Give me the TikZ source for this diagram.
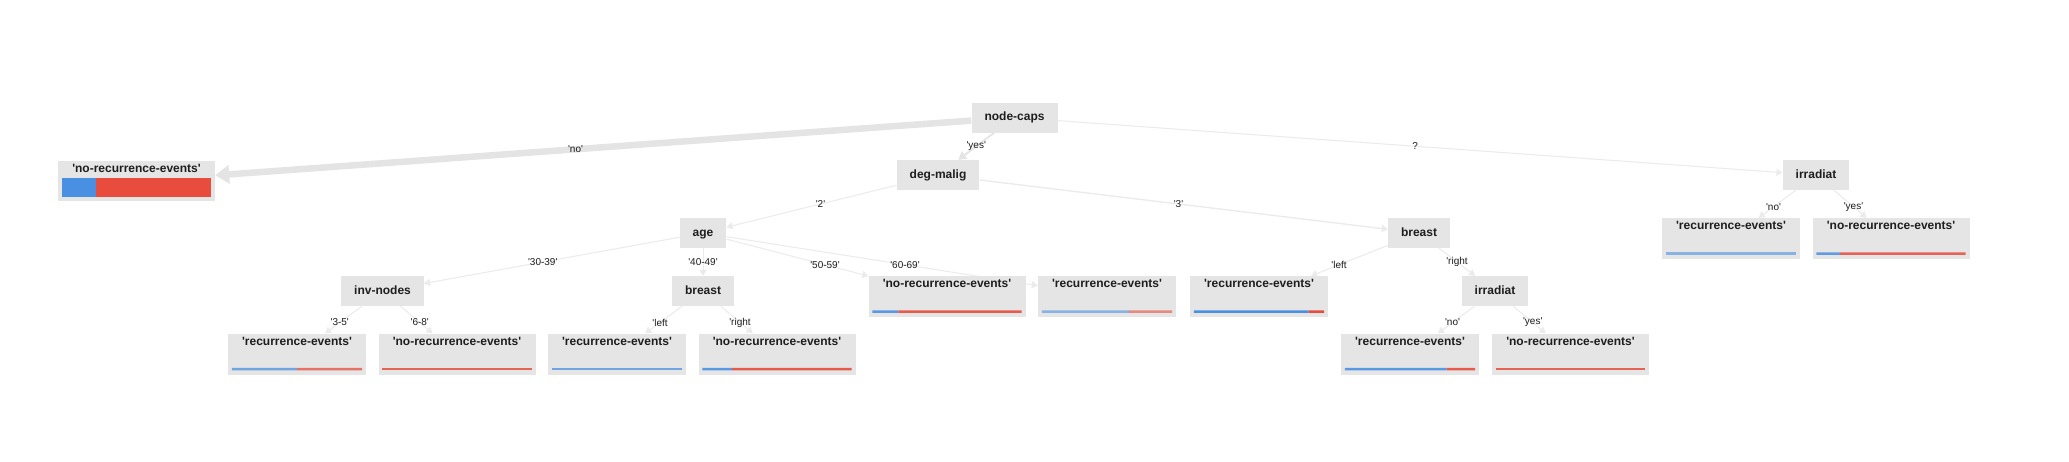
\documentclass[tikz,border=0pt]{standalone}
\usepackage{fontspec}
\newfontfamily\nfb{Liberation Sans}[Ligatures=TeXOff]
\usetikzlibrary{calc,arrows.meta}
\definecolor{boxgray}{HTML}{E5E5E5}
\definecolor{edgegray}{HTML}{E4E4E4}
\definecolor{edgelight}{HTML}{EBEBEB}
\definecolor{barblue}{HTML}{4A90E2}
\definecolor{barred}{HTML}{E74C3C}
\definecolor{labtext}{HTML}{1E1E1E}
\pgfdeclarelayer{paperlayer}
\pgfdeclarelayer{edgelayer}
\pgfsetlayers{paperlayer,edgelayer,main}
\tikzset{
  dec/.style={fill=boxgray, text=labtext, font=\nfb\bfseries\fontsize{12}{14}\selectfont,
    inner xsep=13pt, inner ysep=0pt, minimum height=30pt, text height=9pt, text depth=2.5pt},
  leafbox/.style={fill=boxgray, text=labtext, font=\nfb\bfseries\fontsize{12}{14}\selectfont,
    inner xsep=0pt, inner ysep=0pt, text height=11.5pt, text depth=29.5pt, minimum width=#1},
  elab/.style={font=\nfb\fontsize{10}{12}\selectfont, inner sep=0pt, text=labtext},
  conn/.style={draw=edgelight, line width=1pt, -{Triangle[length=6pt,width=7pt]}},
  barline/.style={line width=2.5pt}
}
\newcommand{\leafbar}[3]{%
  \coordinate (#1a) at ($(#1.south west)+(4,-5.5)$);
  \coordinate (#1b) at ($(#1.south east)+(-4,-5.5)$);
  \coordinate (#1m) at ($(#1a)!#2!(#1b)$);
  \draw[barline, barblue, opacity=#3] (#1a) -- (#1m);
  \draw[barline, barred, opacity=#3] (#1m) -- (#1b);
}
\newcommand{\elabel}[4]{%
  \node[elab] (#1) at ($(#2)!0.5!(#3)$) {#4};
}
\begin{document}
\begin{tikzpicture}[x=1pt,y=-1pt]
\useasboundingbox (0,0) rectangle (2069,461);
\begin{pgfonlayer}{paperlayer}
\fill[white] (0,0) rectangle (2069,461);
\end{pgfonlayer}

% decision nodes
\node[dec] (nc) at (1014.5,117.5) {node-caps};
\node[dec] (dm) at (938,175) {deg-malig};
\node[dec] (ir1) at (1816,175) {irradiat};
\node[dec] (age) at (703,233) {age};
\node[dec] (br2) at (1419,233) {breast};
\node[dec] (inv) at (382.5,291) {inv-nodes};
\node[dec] (br1) at (703,291) {breast};
\node[dec] (ir2) at (1495,291) {irradiat};

% leaves
\node[leafbox=157pt, text height=11pt, text depth=29pt] (L0) at (136.5,181) {'no-recurrence-events'};
\node[leafbox=138pt] (T1) at (1731,238.5) {'recurrence-events'};
\node[leafbox=157pt] (T2) at (1891,238.5) {'no-recurrence-events'};
\node[leafbox=157pt] (L5059) at (947,296.5) {'no-recurrence-events'};
\node[leafbox=138pt] (L6069) at (1107,296.5) {'recurrence-events'};
\node[leafbox=138pt] (Lleft) at (1259,296.5) {'recurrence-events'};
\node[leafbox=138pt] (L35) at (297,354) {'recurrence-events'};
\node[leafbox=157pt] (L68) at (457,354) {'no-recurrence-events'};
\node[leafbox=138pt] (Ll) at (617,354) {'recurrence-events'};
\node[leafbox=157pt] (Lr) at (777,354) {'no-recurrence-events'};
\node[leafbox=138pt] (Lno) at (1410,354) {'recurrence-events'};
\node[leafbox=157pt] (Lyes) at (1570.5,354) {'no-recurrence-events'};

% bars
\fill[barblue] ($(L0.south west)+(4,-4)$) rectangle ($(L0.south west)+(38,-23)$);
\fill[barred] ($(L0.south west)+(38,-4)$) rectangle ($(L0.south east)+(-4,-23)$);
\leafbar{T1}{1}{0.6}
\leafbar{T2}{0.16}{0.85}
\leafbar{L5059}{0.175}{0.9}
\leafbar{L6069}{0.67}{0.6}
\leafbar{Lleft}{0.88}{1}
\leafbar{L35}{0.5}{0.75}
\leafbar{L68}{0}{0.85}
\leafbar{Ll}{1}{0.75}
\leafbar{Lr}{0.2}{0.9}
\leafbar{Lno}{0.78}{0.9}
\leafbar{Lyes}{0}{0.85}

% connectors
\begin{pgfonlayer}{edgelayer}
\draw[conn, draw=edgegray, line width=6.5pt, -{Triangle[length=14pt,width=18pt]}] (nc) -- (L0);
\draw[conn, draw=edgegray, line width=1.8pt, -{Triangle[length=8pt,width=9pt]}] (nc) -- (dm);
\draw[conn] (nc) -- (ir1);
\draw[conn] (dm) -- (age);
\draw[conn, line width=1.3pt] (dm) -- (br2);
\draw[conn] (ir1) -- (T1);
\draw[conn] (ir1) -- (T2);
\draw[conn] (age) -- (inv);
\draw[conn] (age) -- (br1);
\draw[conn] (age) -- (L5059);
\draw[conn] (age) -- (L6069);
\draw[conn] (br2) -- (Lleft);
\draw[conn] (br2) -- (ir2);
\draw[conn] (inv) -- (L35);
\draw[conn] (inv) -- (L68);
\draw[conn] (br1) -- (Ll);
\draw[conn] (br1) -- (Lr);
\draw[conn] (ir2) -- (Lno);
\draw[conn] (ir2) -- (Lyes);
\end{pgfonlayer}

% connector labels
\elabel{e1}{nc}{L0}{'no'}
\elabel{e2}{nc}{dm}{'yes'}
\elabel{e3}{nc}{ir1}{?}
\elabel{e4}{dm}{age}{'2'}
\elabel{e5}{dm}{br2}{'3'}
\elabel{e6}{ir1}{T1}{'no'}
\elabel{e7}{ir1}{T2}{'yes'}
\elabel{e8}{age}{inv}{'30-39'}
\elabel{e9}{age}{br1}{'40-49'}
\elabel{e10}{age}{L5059}{'50-59'}
\elabel{e11}{age}{L6069}{'60-69'}
\elabel{e12}{br2}{Lleft}{'left}
\elabel{e13}{br2}{ir2}{'right}
\elabel{e14}{inv}{L35}{'3-5'}
\elabel{e15}{inv}{L68}{'6-8'}
\elabel{e16}{br1}{Ll}{'left}
\elabel{e17}{br1}{Lr}{'right}
\elabel{e18}{ir2}{Lno}{'no'}
\elabel{e19}{ir2}{Lyes}{'yes'}
\end{tikzpicture}
\end{document}
